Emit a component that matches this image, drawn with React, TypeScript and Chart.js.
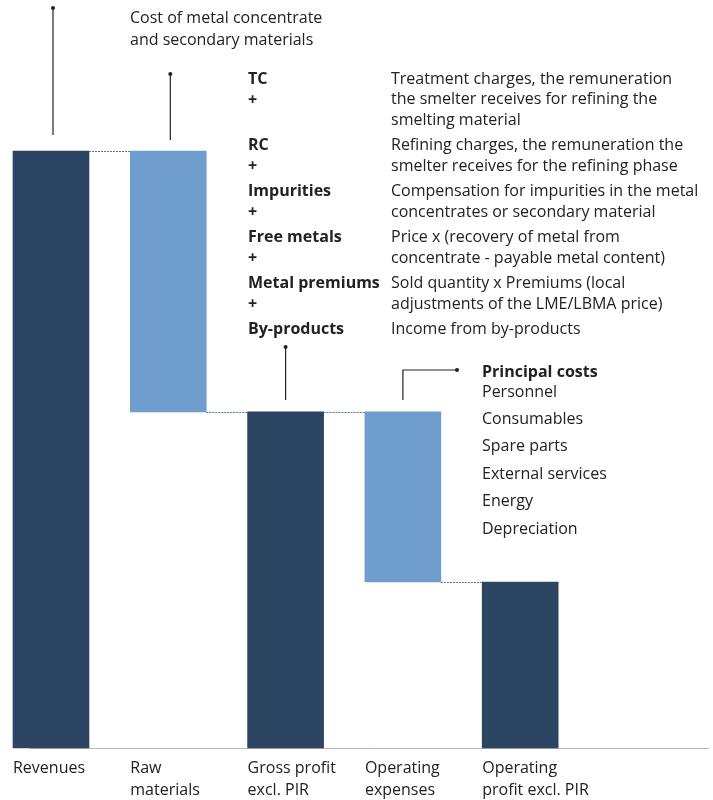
import React, { useEffect, useRef } from "react";
import { Chart, registerables } from "chart.js";

Chart.register(...registerables);

const categories: string[][] = [
  ["Revenues"],
  ["Raw", "materials"],
  ["Gross profit", "excl. PIR"],
  ["Operating", "expenses"],
  ["Operating", "profit excl. PIR"],
];
const changes = [100, -43.7, 56.3, -28.5, 27.8];
const isTotal = [true, false, true, false, true];
const barColors = ["#2c4562", "#6f9dcd", "#2c4562", "#6f9dcd", "#2c4562"];

const rawMaterialNote = ["Cost of metal concentrate", "and secondary materials"];
const componentNames = ["TC", "RC", "Impurities", "Free metals", "Metal premiums", "By-products"];
const componentDescriptions: string[][] = [
  ["Treatment charges, the remuneration", "the smelter receives for refining the", "smelting material"],
  ["Refining charges, the remuneration the", "smelter receives for the refining phase"],
  ["Compensation for impurities in the metal", "concentrates or secondary material"],
  ["Price x (recovery of metal from", "concentrate - payable metal content)"],
  ["Sold quantity x Premiums (local", "adjustments of the LME/LBMA price)"],
  ["Income from by-products"],
];
const principalCostsTitle = "Principal costs";
const principalCosts = ["Personnel", "Consumables", "Spare parts", "External services", "Energy", "Depreciation"];

const FONT = '"Open Sans", "Noto Sans", sans-serif';
const TEXT = "#222";
const BAR_W = 76;
const FS = 16;

function buildRanges() {
  let running = 0;
  const ranges: number[][] = [];
  const ends: number[] = [];
  changes.forEach((c, i) => {
    if (isTotal[i]) {
      ranges.push([0, c]);
      running = c;
    } else {
      const end = running + c;
      ranges.push([Math.min(running, end), Math.max(running, end)]);
      running = end;
    }
    ends.push(running);
  });
  return { ranges, ends };
}

export default function App() {
  const ref = useRef<HTMLCanvasElement | null>(null);
  useEffect(() => {
    if (!ref.current) return;
    const { ranges, ends } = buildRanges();

    const annotations = {
      id: "annotations",
      afterDraw(chart: any) {
        const ctx = chart.ctx;
        const meta = chart.getDatasetMeta(0);
        const ys = chart.scales.y;
        const els = meta.data;
        ctx.save();
        // dotted connectors
        ctx.strokeStyle = "#5577a6";
        ctx.lineWidth = 1;
        ctx.setLineDash([2, 1]);
        for (let i = 0; i < els.length - 1; i++) {
          const y = Math.round(ys.getPixelForValue(ends[i])) + 0.5;
          ctx.beginPath();
          ctx.moveTo(els[i].x + els[i].width / 2, y);
          ctx.lineTo(els[i + 1].x - els[i + 1].width / 2, y);
          ctx.stroke();
        }
        ctx.setLineDash([]);

        // leader lines
        ctx.strokeStyle = TEXT;
        ctx.fillStyle = TEXT;
        ctx.lineWidth = 1.2;
        const dot = (x: number, y: number) => {
          ctx.beginPath();
          ctx.arc(x, y, 2, 0, Math.PI * 2);
          ctx.fill();
        };
        const vline = (x: number, y1: number, y2: number) => {
          ctx.beginPath();
          ctx.moveTo(x, y1);
          ctx.lineTo(x, y2);
          ctx.stroke();
          dot(x, y1);
        };
        vline(els[0].x + 2, 8, 135);
        vline(els[1].x + 2, 74, 140);
        vline(els[2].x, 347, 400);
        const bx = els[3].x;
        ctx.beginPath();
        ctx.moveTo(bx, 400);
        ctx.lineTo(bx, 370);
        ctx.lineTo(457, 370);
        ctx.stroke();
        dot(457, 370);

        // texts
        ctx.textBaseline = "middle";
        ctx.textAlign = "left";
        ctx.font = `400 ${FS}px ${FONT}`;
        rawMaterialNote.forEach((t, i) => ctx.fillText(t, 130, 18 + i * 22));

        let y = 79;
        componentNames.forEach((name, i) => {
          ctx.font = `700 ${FS}px ${FONT}`;
          ctx.fillText(name, 248, y);
          if (i < componentNames.length - 1) ctx.fillText("+", 248, y + 21);
          ctx.font = `400 ${FS}px ${FONT}`;
          const d = componentDescriptions[i];
          d.forEach((t, k) => ctx.fillText(t, 391, y + k * 20.5));
          y += Math.max(2, d.length) * 20.5 + 5;
        });

        ctx.font = `700 ${FS}px ${FONT}`;
        ctx.fillText(principalCostsTitle, 482, 372);
        ctx.font = `400 ${FS}px ${FONT}`;
        principalCosts.forEach((t, i) => ctx.fillText(t, 482, 392 + i * 27.4));
        ctx.restore();
      },
    };

    const chart = new Chart(ref.current, {
      type: "bar",
      data: {
        datasets: [
          {
            data: ranges.map((r, i) => ({ x: i, y: r })) as any,
            backgroundColor: barColors,
            barThickness: BAR_W,
            clip: false as any,
          },
        ],
      },
      options: {
        animation: false,
        responsive: false,
        devicePixelRatio: 1,
        layout: { padding: { left: 30, right: 5, top: 0, bottom: 0 } },
        plugins: { legend: { display: false }, tooltip: { enabled: false } },
        scales: {
          x: {
            type: "linear",
            offset: false,
            min: -0.179,
            max: 5.601,
            afterBuildTicks: (s: any) => {
              s.ticks = categories.map((_, i) => ({ value: i }));
            },
            afterFit: (s: any) => {
              s.height = 52;
            },
            grid: { display: false },
            border: { display: true, color: "#b8b8b8", width: 1 },
            ticks: {
              autoSkip: false,
              maxRotation: 0,
              minRotation: 0,
              align: "start",
              labelOffset: -BAR_W / 2,
              padding: 1,
              color: TEXT,
              font: { family: FONT, size: FS, lineHeight: 1.375 },
              callback: (v: any) => categories[v] ?? "",
            },
          },
          y: { display: false, min: 0, max: 125.3 },
        },
      },
      plugins: [annotations],
    });
    return () => chart.destroy();
  }, []);

  return (
    <div style={{ position: "absolute", left: 0, top: 0, width: 713, height: 800 }}>
      <canvas ref={ref} width={713} height={800} style={{ display: "block", width: 713, height: 800 }} />
    </div>
  );
}
